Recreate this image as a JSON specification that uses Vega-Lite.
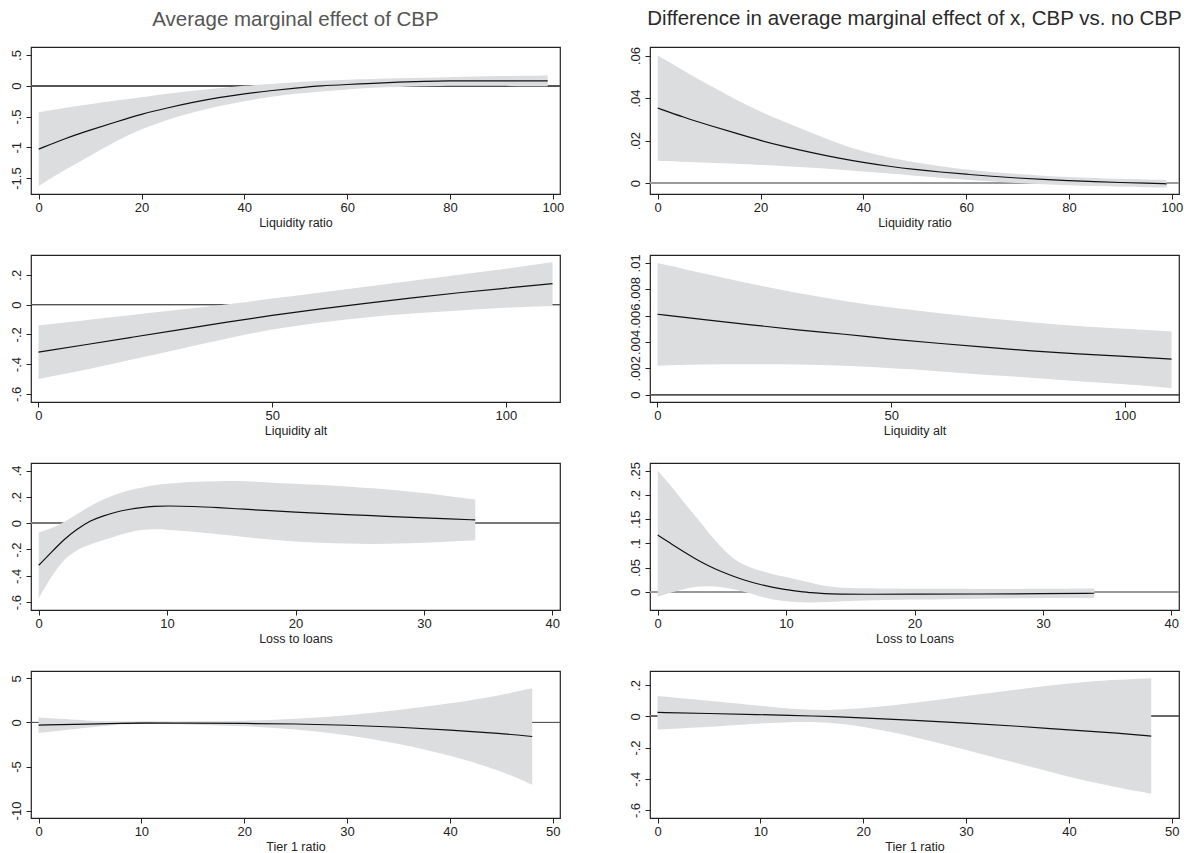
{
  "$schema": "https://vega.github.io/schema/vega-lite/v6.json",
  "padding": {"left": 9, "top": 8, "right": 5, "bottom": 0},
  "background": "white",
  "bounds": "flush",
  "columns": 2,
  "spacing": {"row": 61, "column": 90},
  "config": {
    "font": "Liberation Sans",
    "view": {"stroke": "#222222", "strokeWidth": 1.2},
    "axis": {"grid": false, "domain": false, "ticks": true, "tickSize": 5, "tickColor": "#222222", "tickWidth": 1, "labelFont": "Liberation Sans", "labelFontSize": 13, "labelColor": "#222222", "titleFont": "Liberation Sans", "titleFontSize": 12.5, "titleFontWeight": "normal", "titleColor": "#222222", "labelFlush": false, "labelOverlap": false},
    "axisX": {"labelPadding": 2, "titlePadding": 2},
    "axisY": {"labelAngle": 270, "labelAlign": "center", "labelBaseline": "alphabetic", "labelPadding": 6, "labelExpr": "replace(toString(datum.value), '0.', '.')"},
    "title": {"font": "Liberation Sans", "fontSize": 20.5, "fontWeight": "normal", "color": "#555555", "offset": 17, "anchor": "middle"},
    "area": {"color": "#dcdddf", "interpolate": "basis"},
    "line": {"color": "#111111", "strokeWidth": 1.2, "interpolate": "basis"},
    "rule": {"color": "#666666", "strokeWidth": 1}
  },
  "datasets": {
    "p1": [
      {"x": 0, "est": -1.03, "lo": -1.63, "hi": -0.43},
      {"x": 5, "est": -0.86, "lo": -1.37, "hi": -0.36},
      {"x": 10, "est": -0.72, "lo": -1.14, "hi": -0.30},
      {"x": 15, "est": -0.59, "lo": -0.90, "hi": -0.24},
      {"x": 20, "est": -0.46, "lo": -0.70, "hi": -0.19},
      {"x": 25, "est": -0.36, "lo": -0.55, "hi": -0.13},
      {"x": 30, "est": -0.27, "lo": -0.43, "hi": -0.08},
      {"x": 35, "est": -0.19, "lo": -0.33, "hi": -0.04},
      {"x": 40, "est": -0.13, "lo": -0.25, "hi": 0.00},
      {"x": 45, "est": -0.08, "lo": -0.18, "hi": 0.03},
      {"x": 50, "est": -0.04, "lo": -0.13, "hi": 0.06},
      {"x": 55, "est": 0.00, "lo": -0.09, "hi": 0.08},
      {"x": 60, "est": 0.02, "lo": -0.06, "hi": 0.10},
      {"x": 65, "est": 0.04, "lo": -0.03, "hi": 0.11},
      {"x": 70, "est": 0.06, "lo": -0.02, "hi": 0.12},
      {"x": 75, "est": 0.07, "lo": -0.01, "hi": 0.13},
      {"x": 80, "est": 0.08, "lo": 0.00, "hi": 0.14},
      {"x": 85, "est": 0.08, "lo": 0.00, "hi": 0.15},
      {"x": 90, "est": 0.08, "lo": 0.00, "hi": 0.16},
      {"x": 95, "est": 0.08, "lo": -0.01, "hi": 0.16},
      {"x": 99, "est": 0.08, "lo": -0.01, "hi": 0.17}
    ],
    "p2": [
      {"x": 0, "est": 0.0353, "lo": 0.0105, "hi": 0.0600},
      {"x": 5, "est": 0.0310, "lo": 0.0100, "hi": 0.0530},
      {"x": 10, "est": 0.0272, "lo": 0.0096, "hi": 0.0460},
      {"x": 15, "est": 0.0236, "lo": 0.0091, "hi": 0.0395},
      {"x": 20, "est": 0.0200, "lo": 0.0086, "hi": 0.0335},
      {"x": 25, "est": 0.0170, "lo": 0.0080, "hi": 0.0285},
      {"x": 30, "est": 0.0143, "lo": 0.0073, "hi": 0.0235},
      {"x": 35, "est": 0.0118, "lo": 0.0065, "hi": 0.0188},
      {"x": 40, "est": 0.0097, "lo": 0.0055, "hi": 0.0148},
      {"x": 45, "est": 0.0079, "lo": 0.0045, "hi": 0.0120},
      {"x": 50, "est": 0.0064, "lo": 0.0035, "hi": 0.0097},
      {"x": 55, "est": 0.0052, "lo": 0.0025, "hi": 0.0079},
      {"x": 60, "est": 0.0042, "lo": 0.0016, "hi": 0.0064},
      {"x": 65, "est": 0.0032, "lo": 0.0007, "hi": 0.0052},
      {"x": 70, "est": 0.0024, "lo": 0.0000, "hi": 0.0043},
      {"x": 75, "est": 0.0017, "lo": -0.0006, "hi": 0.0035},
      {"x": 80, "est": 0.0012, "lo": -0.0010, "hi": 0.0029},
      {"x": 85, "est": 0.0007, "lo": -0.0014, "hi": 0.0024},
      {"x": 90, "est": 0.0003, "lo": -0.0017, "hi": 0.0020},
      {"x": 95, "est": 0.0000, "lo": -0.0019, "hi": 0.0017},
      {"x": 99, "est": -0.0003, "lo": -0.0021, "hi": 0.0015}
    ],
    "p3": [
      {"x": 0, "est": -0.32, "lo": -0.50, "hi": -0.14},
      {"x": 10, "est": -0.27, "lo": -0.44, "hi": -0.105},
      {"x": 20, "est": -0.22, "lo": -0.37, "hi": -0.07},
      {"x": 30, "est": -0.17, "lo": -0.30, "hi": -0.035},
      {"x": 40, "est": -0.12, "lo": -0.23, "hi": 0.00},
      {"x": 50, "est": -0.072, "lo": -0.165, "hi": 0.04},
      {"x": 60, "est": -0.03, "lo": -0.12, "hi": 0.08},
      {"x": 70, "est": 0.008, "lo": -0.085, "hi": 0.12},
      {"x": 80, "est": 0.045, "lo": -0.06, "hi": 0.16},
      {"x": 90, "est": 0.08, "lo": -0.04, "hi": 0.20},
      {"x": 100, "est": 0.11, "lo": -0.02, "hi": 0.24},
      {"x": 110, "est": 0.14, "lo": -0.01, "hi": 0.285}
    ],
    "p4": [
      {"x": 0, "est": 0.0061, "lo": 0.0022, "hi": 0.0100},
      {"x": 10, "est": 0.0057, "lo": 0.0023, "hi": 0.0092},
      {"x": 20, "est": 0.0053, "lo": 0.0023, "hi": 0.0084},
      {"x": 30, "est": 0.0049, "lo": 0.0023, "hi": 0.0077},
      {"x": 40, "est": 0.0046, "lo": 0.0022, "hi": 0.0071},
      {"x": 50, "est": 0.0042, "lo": 0.0020, "hi": 0.0066},
      {"x": 60, "est": 0.0039, "lo": 0.0018, "hi": 0.0062},
      {"x": 70, "est": 0.0036, "lo": 0.0015, "hi": 0.0058},
      {"x": 80, "est": 0.0033, "lo": 0.0013, "hi": 0.0055},
      {"x": 90, "est": 0.0031, "lo": 0.0010, "hi": 0.0052},
      {"x": 100, "est": 0.0029, "lo": 0.0008, "hi": 0.0050},
      {"x": 110, "est": 0.0027, "lo": 0.0005, "hi": 0.0048}
    ],
    "p5": [
      {"x": 0, "est": -0.32, "lo": -0.57, "hi": -0.07},
      {"x": 1, "est": -0.22, "lo": -0.40, "hi": -0.04},
      {"x": 2, "est": -0.12, "lo": -0.27, "hi": 0.01},
      {"x": 3, "est": -0.045, "lo": -0.20, "hi": 0.07},
      {"x": 4, "est": 0.02, "lo": -0.16, "hi": 0.13},
      {"x": 5, "est": 0.055, "lo": -0.13, "hi": 0.18},
      {"x": 6, "est": 0.085, "lo": -0.10, "hi": 0.22},
      {"x": 7, "est": 0.105, "lo": -0.07, "hi": 0.25},
      {"x": 8, "est": 0.12, "lo": -0.05, "hi": 0.27},
      {"x": 9, "est": 0.128, "lo": -0.045, "hi": 0.29},
      {"x": 10, "est": 0.132, "lo": -0.05, "hi": 0.30},
      {"x": 12, "est": 0.128, "lo": -0.065, "hi": 0.315},
      {"x": 14, "est": 0.118, "lo": -0.085, "hi": 0.32},
      {"x": 16, "est": 0.106, "lo": -0.105, "hi": 0.32},
      {"x": 18, "est": 0.095, "lo": -0.125, "hi": 0.31},
      {"x": 20, "est": 0.084, "lo": -0.14, "hi": 0.30},
      {"x": 22, "est": 0.074, "lo": -0.15, "hi": 0.29},
      {"x": 24, "est": 0.065, "lo": -0.155, "hi": 0.28},
      {"x": 26, "est": 0.057, "lo": -0.16, "hi": 0.265},
      {"x": 28, "est": 0.048, "lo": -0.155, "hi": 0.25},
      {"x": 30, "est": 0.040, "lo": -0.15, "hi": 0.23},
      {"x": 32, "est": 0.032, "lo": -0.14, "hi": 0.205},
      {"x": 34, "est": 0.025, "lo": -0.13, "hi": 0.18}
    ],
    "p6": [
      {"x": 0, "est": 0.117, "lo": -0.010, "hi": 0.250},
      {"x": 1, "est": 0.100, "lo": -0.002, "hi": 0.220},
      {"x": 2, "est": 0.083, "lo": 0.006, "hi": 0.185},
      {"x": 3, "est": 0.067, "lo": 0.011, "hi": 0.155},
      {"x": 4, "est": 0.053, "lo": 0.012, "hi": 0.120},
      {"x": 5, "est": 0.041, "lo": 0.010, "hi": 0.090},
      {"x": 6, "est": 0.031, "lo": 0.005, "hi": 0.065},
      {"x": 7, "est": 0.022, "lo": -0.002, "hi": 0.052},
      {"x": 8, "est": 0.015, "lo": -0.010, "hi": 0.043},
      {"x": 9, "est": 0.009, "lo": -0.016, "hi": 0.036},
      {"x": 10, "est": 0.004, "lo": -0.020, "hi": 0.031},
      {"x": 11, "est": 0.001, "lo": -0.022, "hi": 0.024},
      {"x": 12, "est": -0.002, "lo": -0.022, "hi": 0.018},
      {"x": 13, "est": -0.004, "lo": -0.021, "hi": 0.012},
      {"x": 14, "est": -0.005, "lo": -0.020, "hi": 0.009},
      {"x": 16, "est": -0.005, "lo": -0.018, "hi": 0.007},
      {"x": 20, "est": -0.005, "lo": -0.016, "hi": 0.006},
      {"x": 25, "est": -0.0045, "lo": -0.014, "hi": 0.006},
      {"x": 30, "est": -0.004, "lo": -0.013, "hi": 0.006},
      {"x": 34, "est": -0.003, "lo": -0.013, "hi": 0.007}
    ],
    "p7": [
      {"x": 0, "est": -0.30, "lo": -1.20, "hi": 0.57},
      {"x": 5, "est": -0.17, "lo": -0.55, "hi": 0.20},
      {"x": 8, "est": -0.10, "lo": -0.20, "hi": 0.02},
      {"x": 10, "est": -0.08, "lo": -0.15, "hi": -0.01},
      {"x": 15, "est": -0.07, "lo": -0.25, "hi": 0.10},
      {"x": 20, "est": -0.10, "lo": -0.40, "hi": 0.18},
      {"x": 25, "est": -0.16, "lo": -0.75, "hi": 0.40},
      {"x": 30, "est": -0.30, "lo": -1.40, "hi": 0.80},
      {"x": 35, "est": -0.52, "lo": -2.40, "hi": 1.40},
      {"x": 40, "est": -0.85, "lo": -3.70, "hi": 2.15},
      {"x": 45, "est": -1.25, "lo": -5.50, "hi": 3.10},
      {"x": 48, "est": -1.59, "lo": -7.07, "hi": 3.90}
    ],
    "p8": [
      {"x": 0, "est": 0.025, "lo": -0.085, "hi": 0.13},
      {"x": 5, "est": 0.018, "lo": -0.068, "hi": 0.10},
      {"x": 10, "est": 0.011, "lo": -0.045, "hi": 0.066},
      {"x": 13, "est": 0.005, "lo": -0.036, "hi": 0.048},
      {"x": 15, "est": 0.002, "lo": -0.036, "hi": 0.040},
      {"x": 17, "est": -0.002, "lo": -0.042, "hi": 0.040},
      {"x": 20, "est": -0.010, "lo": -0.065, "hi": 0.050},
      {"x": 25, "est": -0.025, "lo": -0.13, "hi": 0.085},
      {"x": 30, "est": -0.043, "lo": -0.215, "hi": 0.13},
      {"x": 35, "est": -0.063, "lo": -0.30, "hi": 0.172},
      {"x": 40, "est": -0.087, "lo": -0.39, "hi": 0.212},
      {"x": 45, "est": -0.108, "lo": -0.46, "hi": 0.236},
      {"x": 48, "est": -0.127, "lo": -0.495, "hi": 0.244}
    ]
  },
  "concat": [
    {
      "width": 529, "height": 147,
      "title": {"text": "Average marginal effect of CBP", "color": "#555555"},
      "data": {"name": "p1"},
      "layer": [
        {"mark": {"type": "rule", "color": "#555555"}, "encoding": {"y": {"datum": 0, "type": "quantitative", "scale": {"domain": [-1.76, 0.63], "nice": false, "zero": false}, "axis": {"values": [-1.5, -1, -0.5, 0, 0.5], "title": null}}}},
        {"mark": "area", "encoding": {"x": {"field": "x", "type": "quantitative", "scale": {"domain": [-1.5, 101.4], "nice": false, "zero": false}, "axis": {"values": [0, 20, 40, 60, 80, 100], "title": "Liquidity ratio"}}, "y": {"field": "lo", "type": "quantitative", "scale": {"domain": [-1.76, 0.63], "nice": false, "zero": false}, "axis": {"values": [-1.5, -1, -0.5, 0, 0.5], "title": null}}, "y2": {"field": "hi"}}},
        {"mark": "line", "encoding": {"x": {"field": "x", "type": "quantitative", "scale": {"domain": [-1.5, 101.4], "nice": false, "zero": false}, "axis": {"values": [0, 20, 40, 60, 80, 100], "title": "Liquidity ratio"}}, "y": {"field": "est", "type": "quantitative", "scale": {"domain": [-1.76, 0.63], "nice": false, "zero": false}, "axis": {"values": [-1.5, -1, -0.5, 0, 0.5], "title": null}}}}
      ]
    },
    {
      "width": 529, "height": 147,
      "title": {"text": "Difference in average marginal effect of x, CBP vs. no CBP", "color": "#2a2a2a"},
      "data": {"name": "p2"},
      "layer": [
        {"mark": {"type": "rule", "color": "#999999", "strokeWidth": 1.5}, "encoding": {"y": {"datum": 0, "type": "quantitative", "scale": {"domain": [-0.0051, 0.064], "nice": false, "zero": false}, "axis": {"values": [0, 0.02, 0.04, 0.06], "title": null}}}},
        {"mark": "area", "encoding": {"x": {"field": "x", "type": "quantitative", "scale": {"domain": [-1.5, 101.4], "nice": false, "zero": false}, "axis": {"values": [0, 20, 40, 60, 80, 100], "title": "Liquidity ratio"}}, "y": {"field": "lo", "type": "quantitative", "scale": {"domain": [-0.0051, 0.064], "nice": false, "zero": false}, "axis": {"values": [0, 0.02, 0.04, 0.06], "title": null}}, "y2": {"field": "hi"}}},
        {"mark": "line", "encoding": {"x": {"field": "x", "type": "quantitative", "scale": {"domain": [-1.5, 101.4], "nice": false, "zero": false}, "axis": {"values": [0, 20, 40, 60, 80, 100], "title": "Liquidity ratio"}}, "y": {"field": "est", "type": "quantitative", "scale": {"domain": [-0.0051, 0.064], "nice": false, "zero": false}, "axis": {"values": [0, 0.02, 0.04, 0.06], "title": null}}}}
      ]
    },
    {
      "width": 529, "height": 147,
      "data": {"name": "p3"},
      "layer": [
        {"mark": {"type": "rule", "color": "#555555"}, "encoding": {"y": {"datum": 0, "type": "quantitative", "scale": {"domain": [-0.655, 0.333], "nice": false, "zero": false}, "axis": {"values": [-0.6, -0.4, -0.2, 0, 0.2], "title": null}}}},
        {"mark": "area", "encoding": {"x": {"field": "x", "type": "quantitative", "scale": {"domain": [-1.6, 111.6], "nice": false, "zero": false}, "axis": {"values": [0, 50, 100], "title": "Liquidity alt"}}, "y": {"field": "lo", "type": "quantitative", "scale": {"domain": [-0.655, 0.333], "nice": false, "zero": false}, "axis": {"values": [-0.6, -0.4, -0.2, 0, 0.2], "title": null}}, "y2": {"field": "hi"}}},
        {"mark": "line", "encoding": {"x": {"field": "x", "type": "quantitative", "scale": {"domain": [-1.6, 111.6], "nice": false, "zero": false}, "axis": {"values": [0, 50, 100], "title": "Liquidity alt"}}, "y": {"field": "est", "type": "quantitative", "scale": {"domain": [-0.655, 0.333], "nice": false, "zero": false}, "axis": {"values": [-0.6, -0.4, -0.2, 0, 0.2], "title": null}}}}
      ]
    },
    {
      "width": 529, "height": 147,
      "data": {"name": "p4"},
      "layer": [
        {"mark": {"type": "rule", "color": "#555555"}, "encoding": {"y": {"datum": 0, "type": "quantitative", "scale": {"domain": [-0.00056, 0.0106], "nice": false, "zero": false}, "axis": {"values": [0, 0.002, 0.004, 0.006, 0.008, 0.01], "title": null}}}},
        {"mark": "area", "encoding": {"x": {"field": "x", "type": "quantitative", "scale": {"domain": [-1.6, 111.6], "nice": false, "zero": false}, "axis": {"values": [0, 50, 100], "title": "Liquidity alt"}}, "y": {"field": "lo", "type": "quantitative", "scale": {"domain": [-0.00056, 0.0106], "nice": false, "zero": false}, "axis": {"values": [0, 0.002, 0.004, 0.006, 0.008, 0.01], "title": null}}, "y2": {"field": "hi"}}},
        {"mark": "line", "encoding": {"x": {"field": "x", "type": "quantitative", "scale": {"domain": [-1.6, 111.6], "nice": false, "zero": false}, "axis": {"values": [0, 50, 100], "title": "Liquidity alt"}}, "y": {"field": "est", "type": "quantitative", "scale": {"domain": [-0.00056, 0.0106], "nice": false, "zero": false}, "axis": {"values": [0, 0.002, 0.004, 0.006, 0.008, 0.01], "title": null}}}}
      ]
    },
    {
      "width": 529, "height": 147,
      "data": {"name": "p5"},
      "layer": [
        {"mark": {"type": "rule", "color": "#777777"}, "encoding": {"y": {"datum": 0, "type": "quantitative", "scale": {"domain": [-0.66, 0.4575], "nice": false, "zero": false}, "axis": {"values": [-0.6, -0.4, -0.2, 0, 0.2, 0.4], "title": null}}}},
        {"mark": "area", "encoding": {"x": {"field": "x", "type": "quantitative", "scale": {"domain": [-0.6, 40.6], "nice": false, "zero": false}, "axis": {"values": [0, 10, 20, 30, 40], "title": "Loss to loans"}}, "y": {"field": "lo", "type": "quantitative", "scale": {"domain": [-0.66, 0.4575], "nice": false, "zero": false}, "axis": {"values": [-0.6, -0.4, -0.2, 0, 0.2, 0.4], "title": null}}, "y2": {"field": "hi"}}},
        {"mark": "line", "encoding": {"x": {"field": "x", "type": "quantitative", "scale": {"domain": [-0.6, 40.6], "nice": false, "zero": false}, "axis": {"values": [0, 10, 20, 30, 40], "title": "Loss to loans"}}, "y": {"field": "est", "type": "quantitative", "scale": {"domain": [-0.66, 0.4575], "nice": false, "zero": false}, "axis": {"values": [-0.6, -0.4, -0.2, 0, 0.2, 0.4], "title": null}}}}
      ]
    },
    {
      "width": 529, "height": 147,
      "data": {"name": "p6"},
      "layer": [
        {"mark": {"type": "rule", "color": "#999999", "strokeWidth": 1.5}, "encoding": {"y": {"datum": 0, "type": "quantitative", "scale": {"domain": [-0.0375, 0.2657], "nice": false, "zero": false}, "axis": {"values": [0, 0.05, 0.1, 0.15, 0.2, 0.25], "title": null}}}},
        {"mark": "area", "encoding": {"x": {"field": "x", "type": "quantitative", "scale": {"domain": [-0.6, 40.6], "nice": false, "zero": false}, "axis": {"values": [0, 10, 20, 30, 40], "title": "Loss to Loans"}}, "y": {"field": "lo", "type": "quantitative", "scale": {"domain": [-0.0375, 0.2657], "nice": false, "zero": false}, "axis": {"values": [0, 0.05, 0.1, 0.15, 0.2, 0.25], "title": null}}, "y2": {"field": "hi"}}},
        {"mark": "line", "encoding": {"x": {"field": "x", "type": "quantitative", "scale": {"domain": [-0.6, 40.6], "nice": false, "zero": false}, "axis": {"values": [0, 10, 20, 30, 40], "title": "Loss to Loans"}}, "y": {"field": "est", "type": "quantitative", "scale": {"domain": [-0.0375, 0.2657], "nice": false, "zero": false}, "axis": {"values": [0, 0.05, 0.1, 0.15, 0.2, 0.25], "title": null}}}}
      ]
    },
    {
      "width": 529, "height": 147,
      "data": {"name": "p7"},
      "layer": [
        {"mark": {"type": "rule", "color": "#555555"}, "encoding": {"y": {"datum": 0, "type": "quantitative", "scale": {"domain": [-10.85, 5.85], "nice": false, "zero": false}, "axis": {"values": [-10, -5, 0, 5], "title": null}}}},
        {"mark": "area", "encoding": {"x": {"field": "x", "type": "quantitative", "scale": {"domain": [-0.73, 50.7], "nice": false, "zero": false}, "axis": {"values": [0, 10, 20, 30, 40, 50], "title": "Tier 1 ratio"}}, "y": {"field": "lo", "type": "quantitative", "scale": {"domain": [-10.85, 5.85], "nice": false, "zero": false}, "axis": {"values": [-10, -5, 0, 5], "title": null}}, "y2": {"field": "hi"}}},
        {"mark": "line", "encoding": {"x": {"field": "x", "type": "quantitative", "scale": {"domain": [-0.73, 50.7], "nice": false, "zero": false}, "axis": {"values": [0, 10, 20, 30, 40, 50], "title": "Tier 1 ratio"}}, "y": {"field": "est", "type": "quantitative", "scale": {"domain": [-10.85, 5.85], "nice": false, "zero": false}, "axis": {"values": [-10, -5, 0, 5], "title": null}}}}
      ]
    },
    {
      "width": 529, "height": 147,
      "data": {"name": "p8"},
      "layer": [
        {"mark": {"type": "rule", "color": "#666666"}, "encoding": {"y": {"datum": 0, "type": "quantitative", "scale": {"domain": [-0.651, 0.29], "nice": false, "zero": false}, "axis": {"values": [-0.6, -0.4, -0.2, 0, 0.2], "title": null}}}},
        {"mark": "area", "encoding": {"x": {"field": "x", "type": "quantitative", "scale": {"domain": [-0.73, 50.7], "nice": false, "zero": false}, "axis": {"values": [0, 10, 20, 30, 40, 50], "title": "Tier 1 ratio"}}, "y": {"field": "lo", "type": "quantitative", "scale": {"domain": [-0.651, 0.29], "nice": false, "zero": false}, "axis": {"values": [-0.6, -0.4, -0.2, 0, 0.2], "title": null}}, "y2": {"field": "hi"}}},
        {"mark": "line", "encoding": {"x": {"field": "x", "type": "quantitative", "scale": {"domain": [-0.73, 50.7], "nice": false, "zero": false}, "axis": {"values": [0, 10, 20, 30, 40, 50], "title": "Tier 1 ratio"}}, "y": {"field": "est", "type": "quantitative", "scale": {"domain": [-0.651, 0.29], "nice": false, "zero": false}, "axis": {"values": [-0.6, -0.4, -0.2, 0, 0.2], "title": null}}}}
      ]
    }
  ]
}
